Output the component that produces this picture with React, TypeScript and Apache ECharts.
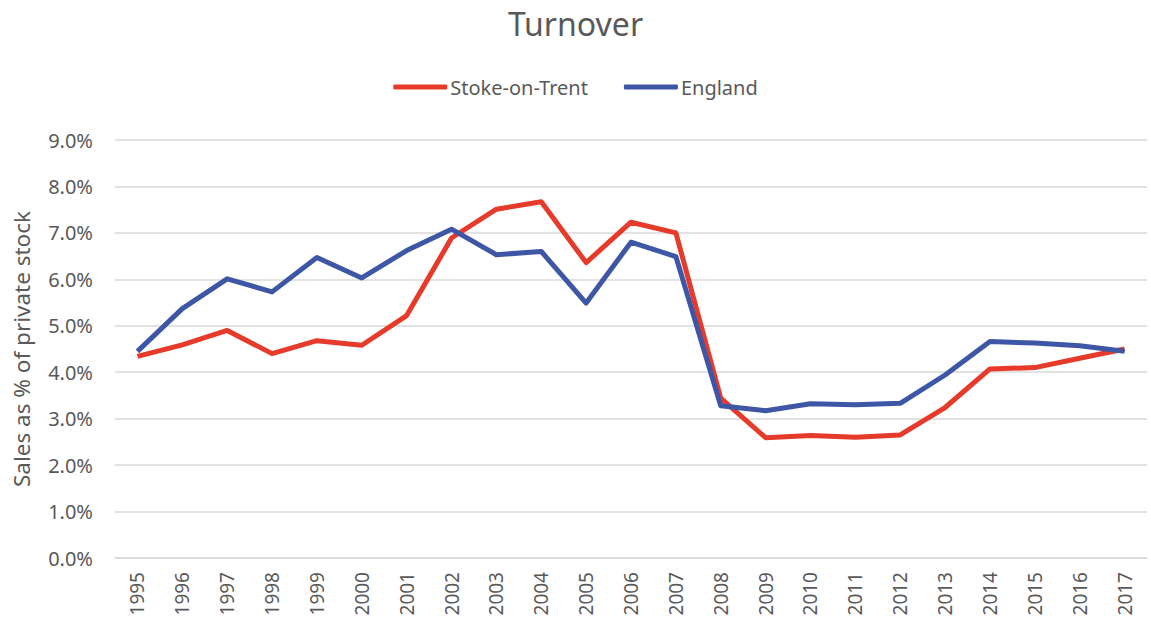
import React, { useEffect, useRef } from "react";
import * as echarts from "echarts";

const years = ["1995","1996","1997","1998","1999","2000","2001","2002","2003","2004","2005","2006","2007","2008","2009","2010","2011","2012","2013","2014","2015","2016","2017"];
const stoke = [4.34,4.59,4.90,4.40,4.68,4.58,5.22,6.89,7.51,7.67,6.36,7.23,7.00,3.44,2.59,2.64,2.60,2.65,3.24,4.07,4.10,4.30,4.50];
const england = [4.45,5.37,6.01,5.73,6.47,6.03,6.62,7.08,6.53,6.60,5.49,6.80,6.49,3.28,3.17,3.32,3.30,3.33,3.94,4.66,4.63,4.57,4.45];
const yTicks = { min: 0, max: 9, interval: 1 };

const FONT = "'Noto Sans', 'Open Sans', sans-serif";
const TXT = "#595959";

export default function App() {
  const ref = useRef<HTMLDivElement>(null);
  useEffect(() => {
    if (!ref.current) return;
    const chart = echarts.init(ref.current, undefined, { renderer: "svg" });
    chart.setOption({
      animation: false,
      backgroundColor: "#ffffff",
      textStyle: { fontFamily: FONT },
      title: {
        text: "Turnover",
        left: "center",
        top: 2,
        textStyle: { fontFamily: FONT, fontSize: 32, fontWeight: "normal", color: TXT },
      },
      legend: {
        top: 72,
        left: "center",
        itemWidth: 54,
        itemHeight: 5,
        itemGap: 36,
        icon: "roundRect",
        textStyle: { fontFamily: FONT, fontSize: 20, color: TXT, padding: [0, 0, 0, -2] },
        data: ["Stoke-on-Trent", "England"],
      },
      grid: { left: 115, right: 4, top: 140, bottom: 66, containLabel: false },
      xAxis: {
        type: "category",
        data: years,
        boundaryGap: true,
        axisLine: { show: true, lineStyle: { color: "#D9D9D9", width: 1.5 } },
        axisTick: { show: false },
        axisLabel: { rotate: 90, margin: 14, fontFamily: FONT, fontSize: 19, color: TXT, interval: 0 },
      },
      yAxis: {
        type: "value",
        min: yTicks.min,
        max: yTicks.max,
        interval: yTicks.interval,
        name: "Sales as % of private stock",
        nameLocation: "middle",
        nameGap: 82,
        nameRotate: 90,
        nameTextStyle: { fontFamily: FONT, fontSize: 22.5, color: TXT },
        axisLine: { show: false },
        axisTick: { show: false },
        splitLine: { lineStyle: { color: "#D9D9D9", width: 1.5 } },
        axisLabel: {
          margin: 22,
          fontFamily: FONT,
          fontSize: 20,
          color: TXT,
          formatter: (v: number) => v.toFixed(1) + "%",
        },
      },
      series: [
        {
          name: "Stoke-on-Trent",
          type: "line",
          data: stoke,
          symbol: "none",
          color: "#E63A2A",
          lineStyle: { width: 5, color: "#E63A2A", join: "round" },
          z: 2,
        },
        {
          name: "England",
          type: "line",
          data: england,
          symbol: "none",
          color: "#3E56A6",
          lineStyle: { width: 5, color: "#3E56A6", join: "round" },
          z: 3,
        },
      ],
    });
    return () => chart.dispose();
  }, []);
  return <div ref={ref} style={{ width: 1151, height: 624, position: "absolute", left: 0, top: 0 }} />;
}
